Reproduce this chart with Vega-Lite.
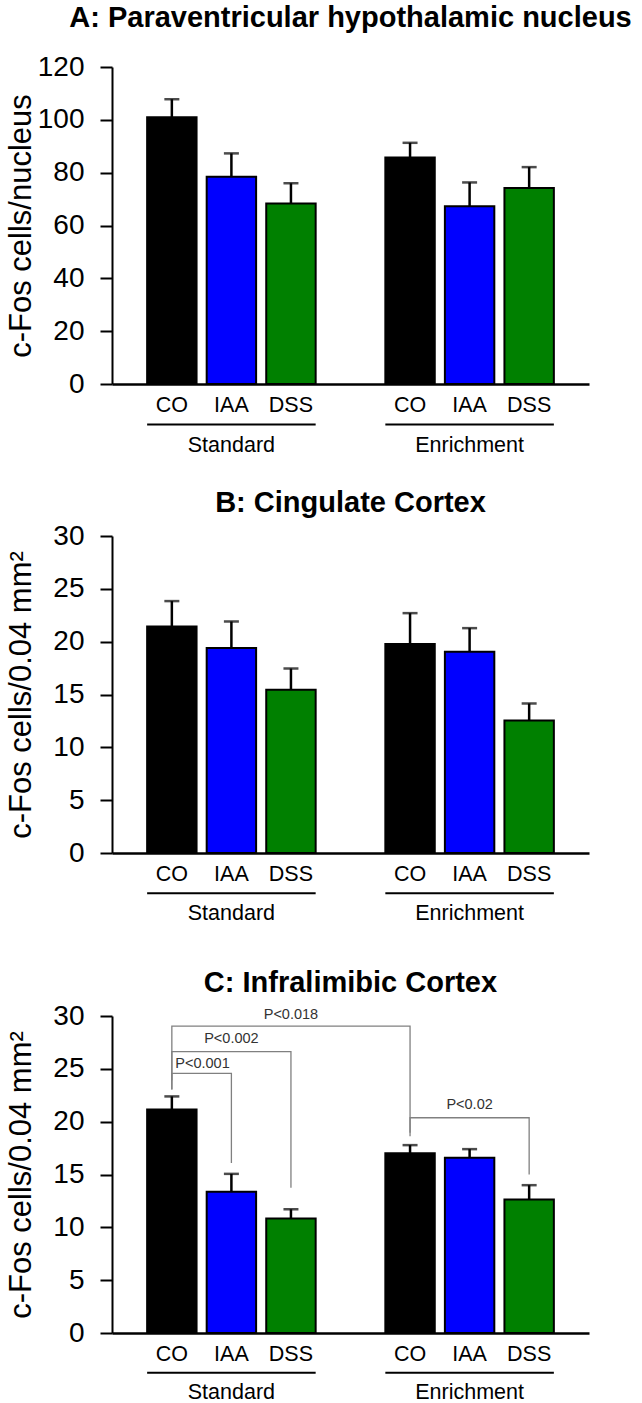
{
  "$schema": "https://vega.github.io/schema/vega-lite/v6.json",
  "background": "white",
  "padding": {"left": 5, "top": 4, "right": 0, "bottom": 0},
  "config": {
    "view": {"stroke": null},
    "font": "Liberation Sans",
    "axis": {"grid": false, "domainColor": "black", "tickColor": "black", "labelColor": "black", "titleColor": "black", "labelFont": "Liberation Sans", "titleFont": "Liberation Sans", "titleFontWeight": "normal"},
    "title": {"font": "Liberation Sans", "fontSize": 29, "fontWeight": "bold", "color": "black", "anchor": "middle", "frame": "group", "baseline": "alphabetic"}
  },
  "datasets": {
    "bars": [
      {"panel": "A", "group": "Standard", "treatment": "CO", "slot": "S-CO", "mean": 101.0, "upper": 107.8},
      {"panel": "A", "group": "Standard", "treatment": "IAA", "slot": "S-IAA", "mean": 78.5, "upper": 87.3},
      {"panel": "A", "group": "Standard", "treatment": "DSS", "slot": "S-DSS", "mean": 68.3, "upper": 76.0},
      {"panel": "A", "group": "Enrichment", "treatment": "CO", "slot": "E-CO", "mean": 85.7, "upper": 91.3},
      {"panel": "A", "group": "Enrichment", "treatment": "IAA", "slot": "E-IAA", "mean": 67.3, "upper": 76.3},
      {"panel": "A", "group": "Enrichment", "treatment": "DSS", "slot": "E-DSS", "mean": 74.2, "upper": 82.1},
      {"panel": "B", "group": "Standard", "treatment": "CO", "slot": "S-CO", "mean": 21.44, "upper": 23.84},
      {"panel": "B", "group": "Standard", "treatment": "IAA", "slot": "S-IAA", "mean": 19.39, "upper": 21.91},
      {"panel": "B", "group": "Standard", "treatment": "DSS", "slot": "S-DSS", "mean": 15.44, "upper": 17.46},
      {"panel": "B", "group": "Enrichment", "treatment": "CO", "slot": "E-CO", "mean": 19.77, "upper": 22.70},
      {"panel": "B", "group": "Enrichment", "treatment": "IAA", "slot": "E-IAA", "mean": 19.04, "upper": 21.28},
      {"panel": "B", "group": "Enrichment", "treatment": "DSS", "slot": "E-DSS", "mean": 12.54, "upper": 14.15},
      {"panel": "C", "group": "Standard", "treatment": "CO", "slot": "S-CO", "mean": 21.16, "upper": 22.39},
      {"panel": "C", "group": "Standard", "treatment": "IAA", "slot": "S-IAA", "mean": 13.36, "upper": 15.06},
      {"panel": "C", "group": "Standard", "treatment": "DSS", "slot": "S-DSS", "mean": 10.83, "upper": 11.71},
      {"panel": "C", "group": "Enrichment", "treatment": "CO", "slot": "E-CO", "mean": 17.02, "upper": 17.78},
      {"panel": "C", "group": "Enrichment", "treatment": "IAA", "slot": "E-IAA", "mean": 16.58, "upper": 17.40},
      {"panel": "C", "group": "Enrichment", "treatment": "DSS", "slot": "E-DSS", "mean": 12.63, "upper": 13.99}
    ],
    "groups": [
      {"group": "Standard", "first": "S-CO", "mid": "S-IAA", "last": "S-DSS"},
      {"group": "Enrichment", "first": "E-CO", "mid": "E-IAA", "last": "E-DSS"}
    ],
    "brackets": [
      {"bracket": "P<0.018", "step": 1, "slot": "S-CO", "y": 23.05},
      {"bracket": "P<0.018", "step": 2, "slot": "S-CO", "y": 29.05},
      {"bracket": "P<0.018", "step": 3, "slot": "E-CO", "y": 29.05},
      {"bracket": "P<0.018", "step": 4, "slot": "E-CO", "y": 18.63},
      {"bracket": "P<0.002", "step": 1, "slot": "S-CO", "y": 23.05},
      {"bracket": "P<0.002", "step": 2, "slot": "S-CO", "y": 26.62},
      {"bracket": "P<0.002", "step": 3, "slot": "S-DSS", "y": 26.62},
      {"bracket": "P<0.002", "step": 4, "slot": "S-DSS", "y": 13.74},
      {"bracket": "P<0.001", "step": 1, "slot": "S-CO", "y": 23.93},
      {"bracket": "P<0.001", "step": 2, "slot": "S-CO", "y": 24.57},
      {"bracket": "P<0.001", "step": 3, "slot": "S-IAA", "y": 24.57},
      {"bracket": "P<0.001", "step": 4, "slot": "S-IAA", "y": 16.1},
      {"bracket": "P<0.02", "step": 1, "slot": "E-CO", "y": 18.95},
      {"bracket": "P<0.02", "step": 2, "slot": "E-CO", "y": 20.37},
      {"bracket": "P<0.02", "step": 3, "slot": "E-DSS", "y": 20.37},
      {"bracket": "P<0.02", "step": 4, "slot": "E-DSS", "y": 15.0}
    ],
    "pvals": [
      {"label": "P<0.018", "slot": "S-DSS", "y": 30.09},
      {"label": "P<0.002", "slot": "S-IAA", "y": 27.79},
      {"label": "P<0.001", "slot": "S-CO", "y": 25.48},
      {"label": "P<0.02", "slot": "E-IAA", "y": 21.53}
    ]
  },
  "bounds": "flush",
  "spacing": 152,
  "vconcat": [
    {
      "width": 477,
      "height": 317,
      "title": {"text": "A: Paraventricular hypothalamic nucleus", "offset": 20},
      "layer": [
        {
          "data": {"name": "bars"},
          "transform": [{"filter": "datum.panel === 'A'"}],
          "mark": {"type": "bar", "stroke": "black", "strokeWidth": 2},
          "encoding": {
            "x": {"field": "slot", "type": "nominal", "sort": null, "scale": {"domain": ["S-CO", "S-IAA", "S-DSS", " ", "E-CO", "E-IAA", "E-DSS"], "paddingInner": 0.17, "paddingOuter": 0.59}, "axis": {"title": null, "labelExpr": "slice(datum.label, 2)", "ticks": false, "tickSize": 0, "labelAngle": 0, "labelFontSize": 21.5, "labelPadding": 10, "domainWidth": 2.5}},
            "y": {"field": "mean", "type": "quantitative", "scale": {"domain": [0, 120]}, "axis": {"title": "c-Fos cells/nucleus", "values": [0, 20, 40, 60, 80, 100, 120], "tickSize": 12, "tickWidth": 2, "domainWidth": 2, "labelFontSize": 28, "labelPadding": 16, "labelFlush": false, "titleFontSize": 31, "titleBaseline": "alphabetic", "titlePadding": 7}},
            "color": {"field": "treatment", "type": "nominal", "scale": {"domain": ["CO", "IAA", "DSS"], "range": ["#000000", "#0000ff", "#008000"]}, "legend": null}
          }
        },
        {
          "data": {"name": "bars"},
          "transform": [{"filter": "datum.panel === 'A'"}],
          "mark": {"type": "rule", "color": "black", "strokeWidth": 2.5},
          "encoding": {
            "x": {"field": "slot", "type": "nominal"},
            "y": {"field": "mean", "type": "quantitative", "title": "c-Fos cells/nucleus"},
            "y2": {"field": "upper"}
          }
        },
        {
          "data": {"name": "bars"},
          "transform": [{"filter": "datum.panel === 'A'"}],
          "mark": {"type": "tick", "color": "black", "thickness": 2.5, "size": 15},
          "encoding": {
            "x": {"field": "slot", "type": "nominal"},
            "y": {"field": "upper", "type": "quantitative", "title": "c-Fos cells/nucleus"}
          }
        },
        {
          "data": {"name": "groups"},
          "mark": {"type": "rule", "color": "black", "strokeWidth": 2},
          "encoding": {
            "x": {"field": "first", "type": "nominal", "bandPosition": 0},
            "x2": {"field": "last", "bandPosition": 1},
            "y": {"datum": -15.3, "type": "quantitative"}
          }
        },
        {
          "data": {"name": "groups"},
          "mark": {"type": "text", "fontSize": 21.5, "baseline": "middle", "color": "black"},
          "encoding": {
            "x": {"field": "mid", "type": "nominal"},
            "y": {"datum": -23.6, "type": "quantitative"},
            "text": {"field": "group"}
          }
        }
      ]
    },
    {
      "bounds": "flush",
      "spacing": 163,
      "vconcat": [
        {
          "width": 477,
          "height": 317,
          "title": {"text": "B: Cingulate Cortex", "offset": 4},
          "layer": [
            {
              "data": {"name": "bars"},
              "transform": [{"filter": "datum.panel === 'B'"}],
              "mark": {"type": "bar", "stroke": "black", "strokeWidth": 2},
              "encoding": {
                "x": {"field": "slot", "type": "nominal", "sort": null, "scale": {"domain": ["S-CO", "S-IAA", "S-DSS", " ", "E-CO", "E-IAA", "E-DSS"], "paddingInner": 0.17, "paddingOuter": 0.59}, "axis": {"title": null, "labelExpr": "slice(datum.label, 2)", "ticks": false, "tickSize": 0, "labelAngle": 0, "labelFontSize": 21.5, "labelPadding": 10, "domainWidth": 2.5}},
                "y": {"field": "mean", "type": "quantitative", "scale": {"domain": [0, 30]}, "axis": {"title": "c-Fos cells/0.04 mm²", "values": [0, 5, 10, 15, 20, 25, 30], "tickSize": 12, "tickWidth": 2, "domainWidth": 2, "labelFontSize": 28, "labelPadding": 16, "labelFlush": false, "titleFontSize": 31, "titleBaseline": "alphabetic", "titlePadding": 22.5}},
                "color": {"field": "treatment", "type": "nominal", "scale": {"domain": ["CO", "IAA", "DSS"], "range": ["#000000", "#0000ff", "#008000"]}, "legend": null}
              }
            },
            {
              "data": {"name": "bars"},
              "transform": [{"filter": "datum.panel === 'B'"}],
              "mark": {"type": "rule", "color": "black", "strokeWidth": 2.5},
              "encoding": {
                "x": {"field": "slot", "type": "nominal"},
                "y": {"field": "mean", "type": "quantitative", "title": "c-Fos cells/0.04 mm²"},
                "y2": {"field": "upper"}
              }
            },
            {
              "data": {"name": "bars"},
              "transform": [{"filter": "datum.panel === 'B'"}],
              "mark": {"type": "tick", "color": "black", "thickness": 2.5, "size": 15},
              "encoding": {
                "x": {"field": "slot", "type": "nominal"},
                "y": {"field": "upper", "type": "quantitative", "title": "c-Fos cells/0.04 mm²"}
              }
            },
            {
              "data": {"name": "groups"},
              "mark": {"type": "rule", "color": "black", "strokeWidth": 2},
              "encoding": {
                "x": {"field": "first", "type": "nominal", "bandPosition": 0},
                "x2": {"field": "last", "bandPosition": 1},
                "y": {"datum": -3.8, "type": "quantitative"}
              }
            },
            {
              "data": {"name": "groups"},
              "mark": {"type": "text", "fontSize": 21.5, "baseline": "middle", "color": "black"},
              "encoding": {
                "x": {"field": "mid", "type": "nominal"},
                "y": {"datum": -5.8, "type": "quantitative"},
                "text": {"field": "group"}
              }
            }
          ]
        },
        {
          "width": 477,
          "height": 317,
          "title": {"text": "C: Infralimibic Cortex", "offset": 4},
          "layer": [
            {
              "data": {"name": "bars"},
              "transform": [{"filter": "datum.panel === 'C'"}],
              "mark": {"type": "bar", "stroke": "black", "strokeWidth": 2},
              "encoding": {
                "x": {"field": "slot", "type": "nominal", "sort": null, "scale": {"domain": ["S-CO", "S-IAA", "S-DSS", " ", "E-CO", "E-IAA", "E-DSS"], "paddingInner": 0.17, "paddingOuter": 0.59}, "axis": {"title": null, "labelExpr": "slice(datum.label, 2)", "ticks": false, "tickSize": 0, "labelAngle": 0, "labelFontSize": 21.5, "labelPadding": 10, "domainWidth": 2.5}},
                "y": {"field": "mean", "type": "quantitative", "scale": {"domain": [0, 30]}, "axis": {"title": "c-Fos cells/0.04 mm²", "values": [0, 5, 10, 15, 20, 25, 30], "tickSize": 12, "tickWidth": 2, "domainWidth": 2, "labelFontSize": 28, "labelPadding": 16, "labelFlush": false, "titleFontSize": 31, "titleBaseline": "alphabetic", "titlePadding": 22.5}},
                "color": {"field": "treatment", "type": "nominal", "scale": {"domain": ["CO", "IAA", "DSS"], "range": ["#000000", "#0000ff", "#008000"]}, "legend": null}
              }
            },
            {
              "data": {"name": "bars"},
              "transform": [{"filter": "datum.panel === 'C'"}],
              "mark": {"type": "rule", "color": "black", "strokeWidth": 2.5},
              "encoding": {
                "x": {"field": "slot", "type": "nominal"},
                "y": {"field": "mean", "type": "quantitative", "title": "c-Fos cells/0.04 mm²"},
                "y2": {"field": "upper"}
              }
            },
            {
              "data": {"name": "bars"},
              "transform": [{"filter": "datum.panel === 'C'"}],
              "mark": {"type": "tick", "color": "black", "thickness": 2.5, "size": 15},
              "encoding": {
                "x": {"field": "slot", "type": "nominal"},
                "y": {"field": "upper", "type": "quantitative", "title": "c-Fos cells/0.04 mm²"}
              }
            },
            {
              "data": {"name": "brackets"},
              "mark": {"type": "line", "color": "#808080", "strokeWidth": 1.3},
              "encoding": {
                "x": {"field": "slot", "type": "nominal"},
                "y": {"field": "y", "type": "quantitative", "title": "c-Fos cells/0.04 mm²"},
                "detail": {"field": "bracket"},
                "order": {"field": "step", "type": "ordinal"}
              }
            },
            {
              "data": {"name": "pvals"},
              "transform": [{"filter": "datum.label !== 'P<0.001'"}],
              "mark": {"type": "text", "fontSize": 14.5, "baseline": "middle", "color": "#333333"},
              "encoding": {
                "x": {"field": "slot", "type": "nominal"},
                "y": {"field": "y", "type": "quantitative", "title": "c-Fos cells/0.04 mm²"},
                "text": {"field": "label"}
              }
            },
            {
              "data": {"name": "pvals"},
              "transform": [{"filter": "datum.label === 'P<0.001'"}],
              "mark": {"type": "text", "fontSize": 14.5, "baseline": "middle", "color": "#333333"},
              "encoding": {
                "x": {"field": "slot", "type": "nominal", "bandPosition": 1.12},
                "y": {"field": "y", "type": "quantitative", "title": "c-Fos cells/0.04 mm²"},
                "text": {"field": "label"}
              }
            },
            {
              "data": {"name": "groups"},
              "mark": {"type": "rule", "color": "black", "strokeWidth": 2},
              "encoding": {
                "x": {"field": "first", "type": "nominal", "bandPosition": 0},
                "x2": {"field": "last", "bandPosition": 1},
                "y": {"datum": -3.75, "type": "quantitative"}
              }
            },
            {
              "data": {"name": "groups"},
              "mark": {"type": "text", "fontSize": 21.5, "baseline": "middle", "color": "black"},
              "encoding": {
                "x": {"field": "mid", "type": "nominal"},
                "y": {"datum": -5.7, "type": "quantitative"},
                "text": {"field": "group"}
              }
            }
          ]
        }
      ]
    }
  ]
}
